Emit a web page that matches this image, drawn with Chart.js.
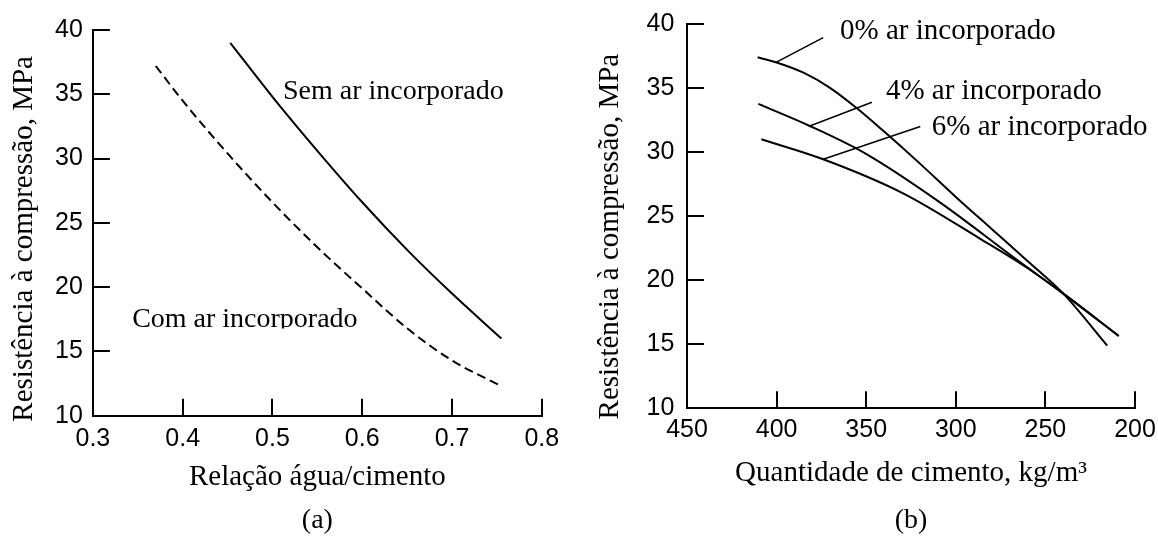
<!DOCTYPE html>
<html>
<head>
<meta charset="utf-8">
<script src="https://cdn.jsdelivr.net/npm/chart.js@4.4.1/dist/chart.umd.min.js"></script>
<style>
  html, body { margin: 0; padding: 0; background: #fff; }
  #wrap { position: relative; width: 1158px; height: 538px; overflow: hidden; }
  canvas { position: absolute; top: 0; }
  #chartA { left: 0; }
  #chartB { left: 575px; }
</style>
</head>
<body>
<div id="wrap">
  <canvas id="chartA" width="575" height="538"></canvas>
  <canvas id="chartB" width="583" height="538"></canvas>
</div>
<script>
// (a) resistência x relação água/cimento
const acSemAr = [0.453, 0.500, 0.550, 0.600, 0.650, 0.700, 0.755];
const fcSemAr = [39.0, 34.8, 30.6, 26.6, 22.9, 19.5, 16.0];
const acComAr = [0.370, 0.400, 0.450, 0.500, 0.550, 0.600, 0.650, 0.700, 0.755];
const fcComAr = [37.2, 34.5, 30.4, 26.6, 23.1, 19.9, 16.8, 14.3, 12.3];
const acTicks = [0.3, 0.4, 0.5, 0.6, 0.7, 0.8];

// (b) resistência x quantidade de cimento
const cim0 = [410.6, 400, 385, 370, 355, 340, 320, 300, 280, 260, 240, 215.5];
const fc0 = [37.4, 37.0, 36.2, 35.0, 33.4, 31.6, 29.1, 26.5, 24.0, 21.5, 18.95, 14.9];
const cim4 = [410.2, 381.5, 350.6, 308.1, 265.5, 240.0, 209.1];
const fc4 = [33.76, 32.04, 29.90, 26.00, 21.55, 18.95, 15.65];
const cim6 = [408.5, 374.0, 329.4, 286.8, 260.0, 240.0, 209.1];
const fc6 = [31.00, 29.44, 26.78, 23.27, 20.95, 18.95, 15.65];
const cimTicks = [450, 400, 350, 300, 250, 200];

// leader lines from labels to curves (b)
const lead0X = [400.6, 374.0], lead0Y = [36.98, 38.93];
const lead4X = [381.5, 346.8], lead4Y = [32.04, 33.89];
const lead6X = [374.0, 319.8], lead6Y = [29.44, 32.00];

const fcTicks = [10, 15, 20, 25, 30, 35, 40];

const SANS = "'Liberation Sans', Arial, sans-serif";
const SERIF = "'Liberation Serif', 'Times New Roman', serif";

const pts = (xs, ys) => xs.map((v, i) => ({ x: v, y: ys[i] }));

// draws rotated y title, curve labels and the (a)/(b) caption
const figText = {
  id: "figText",
  afterDraw(chart, args, o) {
    const { ctx, chartArea: a, scales: { x, y } } = chart;
    ctx.save();
    ctx.fillStyle = "#000";

    ctx.save();
    ctx.font = "29px " + SERIF;
    ctx.translate(a.left + o.yTitleDx, (a.top + a.bottom) / 2 + o.yTitleDy);
    ctx.rotate(-Math.PI / 2);
    ctx.textAlign = "center";
    ctx.textBaseline = "middle";
    ctx.fillText(o.yTitle, 0, 0);
    ctx.restore();

    ctx.font = o.noteSize + "px " + SERIF;
    ctx.textAlign = "left";
    ctx.textBaseline = "alphabetic";
    o.notes.forEach((n) => {
      const px = x.getPixelForValue(n.x);
      const py = y.getPixelForValue(n.y);
      ctx.save();
      if (n.clip) {
        ctx.beginPath();
        ctx.rect(px - 5, py - 40, 400, 40 + n.clip);
        ctx.clip();
      }
      ctx.fillText(n.text, px, py);
      ctx.restore();
    });

    ctx.font = "28px " + SERIF;
    ctx.textAlign = "center";
    ctx.fillText(o.caption, (a.left + a.right) / 2, o.captionY);
    ctx.restore();
  }
};

function axisStyle(pad) {
  return {
    border: { display: true, color: "#000", width: 2 },
    grid: { drawOnChartArea: false, drawTicks: true, tickLength: -17, color: "#000", lineWidth: 2 },
    ticks: { color: "#000", font: { family: SANS, size: 25 }, padding: pad, autoSkip: false, maxRotation: 0 }
  };
}

// fixed axis box, no extra label padding (layout padding does the rest)
const fitX = (h) => (s) => { s.height = h; s.paddingLeft = 0; s.paddingRight = 0; };
const fitY = (w) => (s) => { s.width = w; s.paddingTop = 0; s.paddingBottom = 0; };

function curve(data, dashed) {
  return {
    data: data,
    borderColor: "#000",
    borderWidth: 2,
    borderDash: dashed ? [9, 5] : [],
    pointRadius: 0,
    fill: false,
    cubicInterpolationMode: "monotone"
  };
}

function leader(data) {
  return { data: data, borderColor: "#000", borderWidth: 1.5, pointRadius: 0, fill: false, tension: 0 };
}

// ---- (a) ----
const ax = axisStyle(25.4);
const ay = axisStyle(27);
new Chart(document.getElementById("chartA"), {
  type: "line",
  data: {
    datasets: [
      curve(pts(acSemAr, fcSemAr), false),
      curve(pts(acComAr, fcComAr), true)
    ]
  },
  options: {
    responsive: false,
    animation: false,
    layout: { padding: { left: 0, top: 30, right: 33.2, bottom: 0 } },
    plugins: {
      legend: { display: false },
      tooltip: { enabled: false },
      figText: {
        yTitle: "Resistência à compressão, MPa",
        yTitleDx: -69,
        yTitleDy: 16,
        noteSize: 28,
        caption: "(a)",
        captionY: 528,
        notes: [
          { text: "Sem ar incorporado", x: 0.5117, y: 34.63 },
          { text: "Com ar incorporado", x: 0.3437, y: 16.93, clip: 2 }
        ]
      }
    },
    scales: {
      x: {
        type: "linear", position: "bottom", min: 0.3, max: 0.8,
        border: ax.border, grid: ax.grid,
        ticks: Object.assign({}, ax.ticks, { callback: (v) => v.toFixed(1) }),
        afterBuildTicks: (s) => { s.ticks = acTicks.map((v) => ({ value: v })); },
        afterFit: fitX(122.3),
        title: { display: true, text: "Relação água/cimento", color: "#000",
                 font: { family: SERIF, size: 29 }, padding: { top: 0, bottom: 43 } }
      },
      y: {
        type: "linear", position: "left", min: 10, max: 40,
        border: ay.border, grid: ay.grid, ticks: ay.ticks,
        afterBuildTicks: (s) => { s.ticks = fcTicks.map((v) => ({ value: v })); },
        afterFit: fitY(92.9)
      }
    }
  },
  plugins: [figText]
});

// ---- (b) ----
const bx = axisStyle(23.8);
const by = axisStyle(29.6);
new Chart(document.getElementById("chartB"), {
  type: "line",
  data: {
    datasets: [
      curve(pts(cim0, fc0), false),
      curve(pts(cim4, fc4), false),
      curve(pts(cim6, fc6), false),
      leader(pts(lead0X, lead0Y)),
      leader(pts(lead4X, lead4Y)),
      leader(pts(lead6X, lead6Y))
    ]
  },
  options: {
    responsive: false,
    animation: false,
    layout: { padding: { left: 0, top: 24, right: 23, bottom: 0 } },
    plugins: {
      legend: { display: false },
      tooltip: { enabled: false },
      figText: {
        yTitle: "Resistência à compressão, MPa",
        yTitleDx: -77,
        yTitleDy: 20.5,
        noteSize: 29,
        caption: "(b)",
        captionY: 528,
        notes: [
          { text: "0% ar incorporado", x: 364.6, y: 38.83 },
          { text: "4% ar incorporado", x: 339.0, y: 34.12 },
          { text: "6% ar incorporado", x: 313.4, y: 31.33 }
        ]
      }
    },
    scales: {
      x: {
        type: "linear", position: "bottom", min: 200, max: 450, reverse: true,
        border: bx.border, grid: bx.grid, ticks: bx.ticks,
        afterBuildTicks: (s) => { s.ticks = cimTicks.map((v) => ({ value: v })); },
        afterFit: fitX(129.7),
        title: { display: true, text: "Quantidade de cimento, kg/m³", color: "#000",
                 font: { family: SERIF, size: 29 }, padding: { top: 0, bottom: 47 } }
      },
      y: {
        type: "linear", position: "left", min: 10, max: 40,
        border: by.border, grid: by.grid, ticks: by.ticks,
        afterBuildTicks: (s) => { s.ticks = fcTicks.map((v) => ({ value: v })); },
        afterFit: fitY(112)
      }
    }
  },
  plugins: [figText]
});
</script>
</body>
</html>
